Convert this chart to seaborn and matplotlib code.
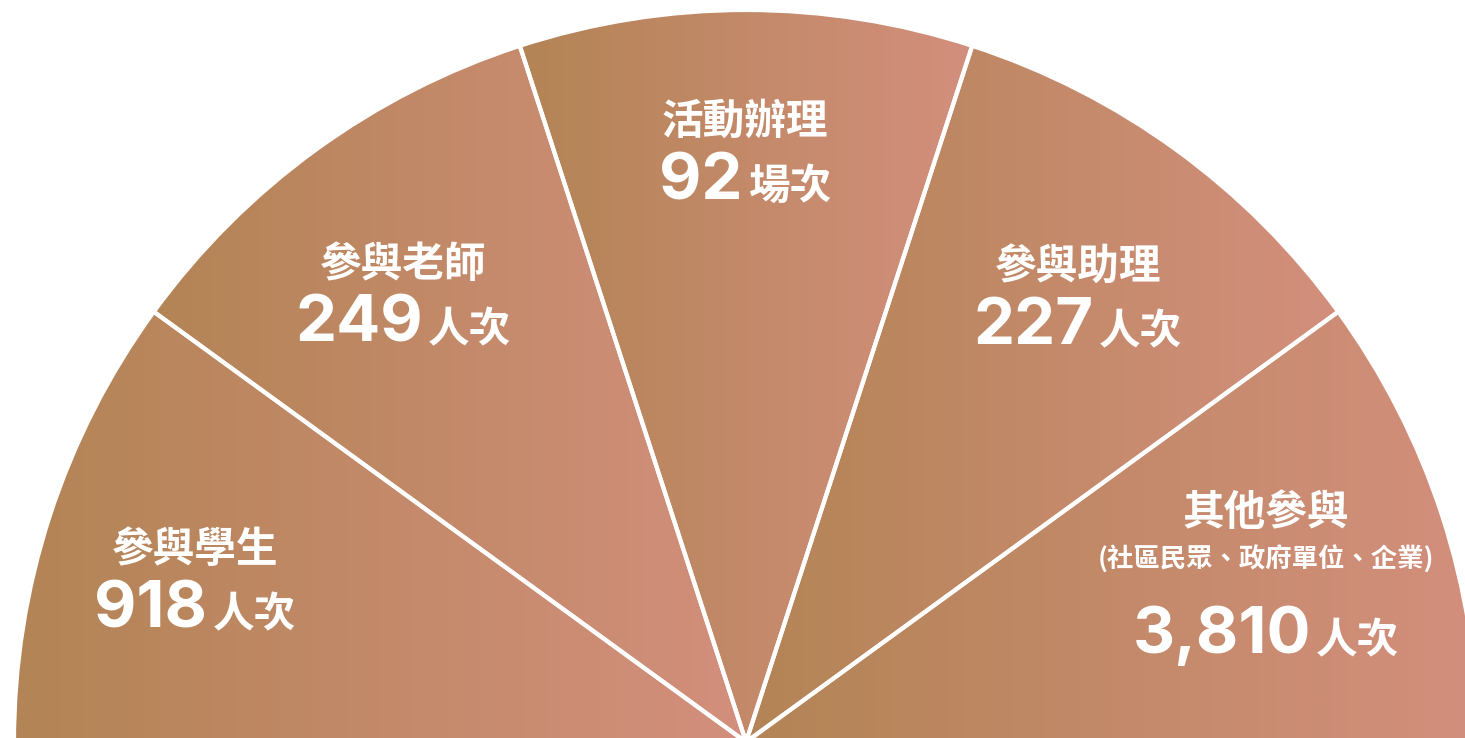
import numpy as np
import seaborn as sns
import matplotlib.pyplot as plt

# wedges go counter-clockwise from the right edge of the half circle
categories = ['其他參與', '參與助理', '活動辦理', '參與老師', '參與學生']
notes = ['(社區民眾、政府單位、企業)', '', '', '', '']
counts = [3810, 227, 92, 249, 918]
units = ['人次', '人次', '場次', '人次', '人次']
shares = [1, 1, 1, 1, 1]

# label anchors (pixel x, pixel y from top) of each wedge's title line
anchors = [(1266, 513), (1078, 267), (745, 122), (403, 265), (195, 550)]

sns.set_theme(style='white')
plt.rcParams['font.family'] = ['Noto Sans CJK TC', 'DejaVu Sans']

grad = sns.blend_palette(['#B38455', '#D38F7D'], as_cmap=True)

W, H = 1465, 738
fig = plt.figure(figsize=(W / 100, H / 100), dpi=100)
ax = fig.add_axes([0, 0, 1, 1])

cx, cy, R = 746, -4, 732

# half pie: the last (hidden) wedge fills the lower half
wedges, _ = ax.pie(shares + [sum(shares)], startangle=0, counterclock=True,
                   center=(cx, cy), radius=R, frame=True,
                   wedgeprops=dict(facecolor='none', edgecolor='white',
                                   linewidth=3, zorder=3))
wedges[-1].set_visible(False)

# left-to-right colour ramp inside each wedge
ramp = np.linspace(0, 1, 256).reshape(1, -1)
for w in wedges[:-1]:
    ext = w.get_path().get_extents()
    im = ax.imshow(ramp, cmap=grad, extent=(ext.x0, ext.x1, ext.y0, ext.y1),
                   aspect='auto', interpolation='bicubic', zorder=1)
    im.set_clip_path(w)

ax.set_xlim(0, W)
ax.set_ylim(0, H)
ax.set_aspect('auto')
ax.axis('off')

fig.canvas.draw()
renderer = fig.canvas.get_renderer()

for cat, note, n, unit, (px, py) in zip(categories, notes, counts, units, anchors):
    ly = H - py
    ax.text(px, ly, cat, color='white', fontsize=30, fontweight='bold',
            ha='center', va='center', zorder=5)
    if note:
        ax.text(px, ly - 47, note, color='white', fontsize=19, fontweight='bold',
                ha='center', va='center', zorder=5)
        base = ly - 140
    else:
        base = ly - 77

    t_num = ax.text(0, base, f'{n:,}', color='white', fontsize=47,
                    fontweight='bold', family=['Inter', 'DejaVu Sans'],
                    ha='left', va='baseline', zorder=5)
    t_unit = ax.text(0, base, unit, color='white', fontsize=30,
                     fontweight='bold', ha='left', va='baseline', zorder=5)
    wn = t_num.get_window_extent(renderer).width
    wu = t_unit.get_window_extent(renderer).width
    gap = 5
    x0 = px - (wn + gap + wu) / 2
    t_num.set_x(x0)
    t_unit.set_x(x0 + wn + gap)

fig.savefig('out.png', dpi=100)
